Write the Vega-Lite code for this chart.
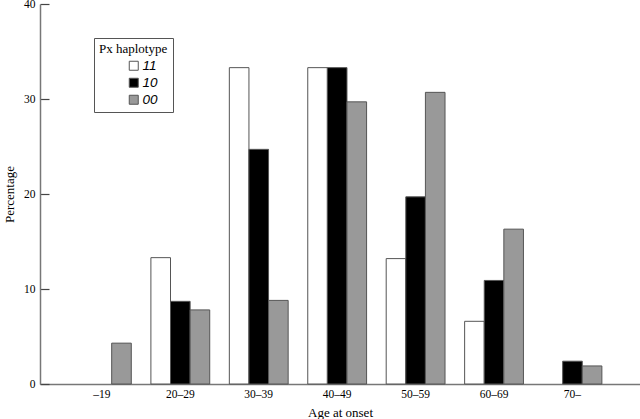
{
  "$schema": "https://vega.github.io/schema/vega-lite/v6.json",
  "width": 600,
  "height": 380,
  "autosize": {"type": "none"},
  "padding": {"left": 40, "top": 4, "right": 0, "bottom": 35},
  "background": "white",
  "config": {
    "view": {"stroke": null},
    "font": "Liberation Serif"
  },
  "data": {
    "values": [
      {"age": "–19", "hap": "00", "pct": 4.3},
      {"age": "20–29", "hap": "11", "pct": 13.3},
      {"age": "20–29", "hap": "10", "pct": 8.7},
      {"age": "20–29", "hap": "00", "pct": 7.8},
      {"age": "30–39", "hap": "11", "pct": 33.3},
      {"age": "30–39", "hap": "10", "pct": 24.7},
      {"age": "30–39", "hap": "00", "pct": 8.8},
      {"age": "40–49", "hap": "11", "pct": 33.3},
      {"age": "40–49", "hap": "10", "pct": 33.3},
      {"age": "40–49", "hap": "00", "pct": 29.7},
      {"age": "50–59", "hap": "11", "pct": 13.2},
      {"age": "50–59", "hap": "10", "pct": 19.7},
      {"age": "50–59", "hap": "00", "pct": 30.7},
      {"age": "60–69", "hap": "11", "pct": 6.6},
      {"age": "60–69", "hap": "10", "pct": 10.9},
      {"age": "60–69", "hap": "00", "pct": 16.3},
      {"age": "70–", "hap": "10", "pct": 2.4},
      {"age": "70–", "hap": "00", "pct": 1.9}
    ]
  },
  "mark": {"type": "bar", "stroke": "#555555", "strokeWidth": 1},
  "encoding": {
    "x": {
      "field": "age",
      "type": "nominal",
      "sort": ["–19", "20–29", "30–39", "40–49", "50–59", "60–69", "70–"],
      "scale": {"paddingInner": 0.25, "paddingOuter": 0.45, "align": 0.46},
      "axis": {
        "title": "Age at onset",
        "titleFont": "Liberation Serif",
        "titleFontSize": 13,
        "titleFontWeight": "normal",
        "titleColor": "#000000",
        "titlePadding": 7,
        "labelFont": "Liberation Serif",
        "labelFontSize": 11.5,
        "labelColor": "#000000",
        "labelAngle": 0,
        "labelPadding": 4,
        "ticks": false,
        "domainColor": "#777777",
        "domainWidth": 1.5
      }
    },
    "xOffset": {
      "field": "hap",
      "type": "nominal",
      "sort": ["11", "10", "00"],
      "scale": {"paddingInner": 0, "paddingOuter": 0}
    },
    "y": {
      "field": "pct",
      "type": "quantitative",
      "scale": {"domain": [0, 40], "nice": false},
      "axis": {
        "title": "Percentage",
        "titleFont": "Liberation Serif",
        "titleFontSize": 13,
        "titleFontWeight": "normal",
        "titleColor": "#000000",
        "titlePadding": 7,
        "values": [0, 10, 20, 30, 40],
        "grid": false,
        "labelFont": "Liberation Serif",
        "labelFontSize": 11.5,
        "labelColor": "#000000",
        "tickSize": -9,
        "tickWidth": 1.2,
        "tickColor": "#444444",
        "labelPadding": 14,
        "domainColor": "#777777",
        "domainWidth": 1.5
      }
    },
    "fill": {
      "field": "hap",
      "type": "nominal",
      "scale": {"domain": ["11", "10", "00"], "range": ["#ffffff", "#000000", "#999999"]},
      "legend": {
        "title": "Px haplotype",
        "orient": "none",
        "legendX": 54,
        "legendY": 34,
        "direction": "vertical",
        "padding": 5,
        "strokeColor": "#555555",
        "fillColor": "#ffffff",
        "titleFont": "Liberation Serif",
        "titleFontSize": 13,
        "titleFontWeight": "normal",
        "titleColor": "#000000",
        "titlePadding": 3,
        "labelFont": "Liberation Sans",
        "labelFontStyle": "italic",
        "labelFontSize": 13.5,
        "labelColor": "#000000",
        "labelOffset": 2,
        "labelExpr": "datum.label + '        '",
        "symbolType": "square",
        "symbolSize": 81,
        "symbolStrokeColor": "#555555",
        "symbolStrokeWidth": 1,
        "symbolOffset": 28,
        "rowPadding": 2,
        "columnPadding": 16
      }
    }
  }
}
